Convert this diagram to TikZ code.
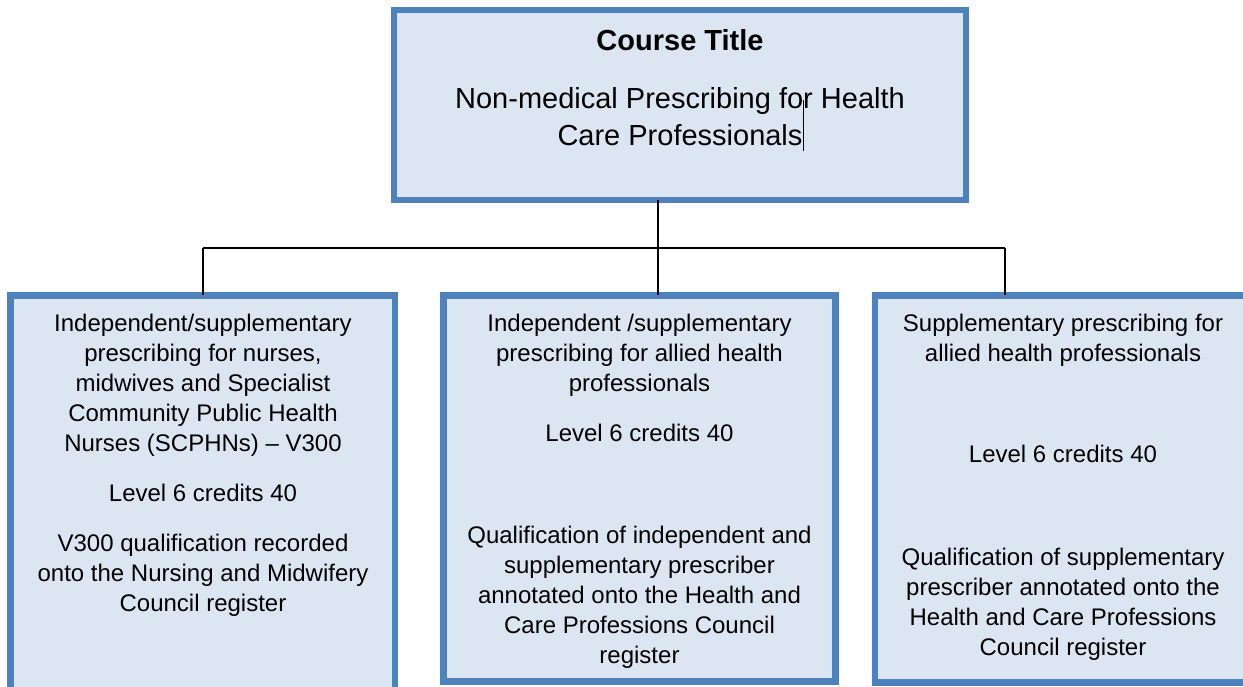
\documentclass[tikz,border=0pt]{standalone}
\usepackage{fontspec}
\setmainfont{Liberation Sans}
\definecolor{boxline}{HTML}{4F81BD}
\definecolor{boxfill}{HTML}{DCE6F2}
\begin{document}
\begin{tikzpicture}[x=1pt,y=-1pt,
  card/.style={draw=boxline, fill=boxfill, rectangle, inner sep=0pt, outer sep=0pt},
  small/.style={font=\fontsize{24}{30}\selectfont, align=center, anchor=base, inner sep=0pt},
  big/.style={font=\fontsize{29}{37}\selectfont, align=center, anchor=base, inner sep=0pt},
  link/.style={draw=black, line width=1.3pt}]
\useasboundingbox (0,0) rectangle (1243,687);
% boxes
\node[card, line width=6pt, minimum width=572pt, minimum height=190pt] (top) at (680,105) {};
\node[card, line width=6.5pt, minimum width=384.5pt, minimum height=406pt] (left) at (202.75,498.5) {};
\node[card, line width=6.5pt, minimum width=392pt, minimum height=386pt] (mid) at (639.5,488.5) {};
\node[card, line width=6.5pt, minimum width=377pt, minimum height=387pt] (right) at (1063.5,489) {};
% connectors
\coordinate (jc) at (658,248);
\coordinate (jl) at (203,248);
\coordinate (jr) at (1005,248);
\draw[link] (jc |- top.south) -- (jc |- mid.north);
\draw[link] (jl) -- (jr);
\draw[link] (jl) -- (jl |- left.north);
\draw[link] (jr) -- (jr |- right.north);
% top text
\node[big, font=\fontsize{29}{37}\selectfont\bfseries] (ttl) at (680,50.7) {Course Title};
\node[big] (tsub) at (680,145.7) {Non-medical Prescribing for Health\\Care Professionals};
\coordinate (cur) at (803,100);
\draw[black, line width=1pt] (cur) -- ++(0,51);
% left text
\node[small] (l1) at (203,451) {Independent/supplementary\\prescribing for nurses,\\midwives and Specialist\\Community Public Health\\Nurses (SCPHNs) -- V300};
\node[small] (l2) at (203,501.5) {Level 6 credits 40};
\node[small] (l3) at (203,611.7) {V300 qualification recorded\\onto the Nursing and Midwifery\\Council register};
% middle text
\node[small] (m1) at (639.5,391) {Independent /supplementary\\prescribing for allied health\\professionals};
\node[small] (m2) at (639.5,441.7) {Level 6 credits 40};
\node[small] (m3) at (639.5,663) {Qualification of independent and\\supplementary prescriber\\annotated onto the Health and\\Care Professions Council\\register};
% right text
\node[small] (r1) at (1063,361) {Supplementary prescribing for\\allied health professionals};
\node[small] (r2) at (1063,462.7) {Level 6 credits 40};
\node[small] (r3) at (1063,655) {Qualification of supplementary\\prescriber annotated onto the\\Health and Care Professions\\Council register};
\end{tikzpicture}
\end{document}
